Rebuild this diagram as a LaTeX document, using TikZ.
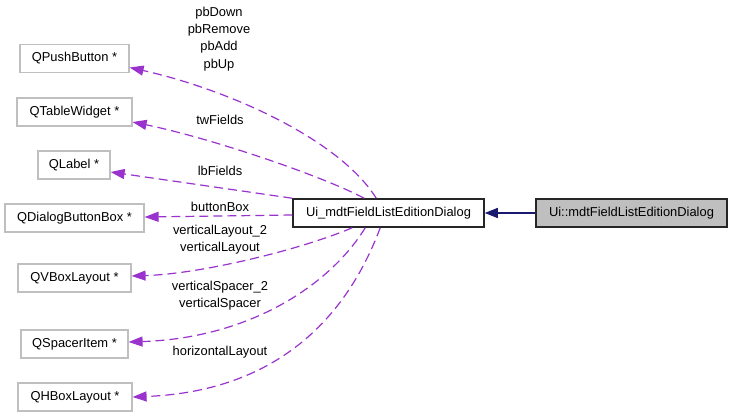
\documentclass[tikz,border=0pt]{standalone}
\usepackage{fontspec}
\setmainfont{Liberation Sans}
\usetikzlibrary{arrows.meta,calc}
\definecolor{edgepurple}{HTML}{9A32CD}
\definecolor{navyblue}{HTML}{191970}
\definecolor{boxgray}{HTML}{BFBFBF}
\begin{document}
\begin{tikzpicture}[x=1pt,y=-1pt,
  font=\fontsize{12.9}{17.3}\selectfont,
  cls/.style={draw=boxgray, line width=1.2pt, minimum height=28pt, inner sep=0pt, fill=white},
  mainbox/.style={draw=black!85, line width=1.5pt, minimum height=28pt, minimum width=191pt, inner sep=0pt},
  dep/.style={edgepurple, dash pattern=on 9pt off 5pt, line width=1.2pt, -{Triangle[length=14pt,width=10pt]}},
  inh/.style={navyblue, line width=1.2pt, -{Triangle[length=13pt,width=10pt]}},
  elabel/.style={inner sep=0pt, align=center, text=black}]
\useasboundingbox (0,0) rectangle (733,417);

% class nodes
\node[cls, minimum width=109pt] (push)   at (74.5,58.5) {QPushButton *};
\node[cls, minimum width=115pt] (table)  at (74.5,112)  {QTableWidget *};
\node[cls, minimum width=72pt]  (label)  at (74,165)    {QLabel *};
\node[cls, minimum width=139pt] (dbb)    at (74.5,218)  {QDialogButtonBox *};
\node[cls, minimum width=113pt] (vbox)   at (74.5,278)  {QVBoxLayout *};
\node[cls, minimum width=107pt] (spacer) at (74.5,344)  {QSpacerItem *};
\node[cls, minimum width=114pt] (hbox)   at (75,397)    {QHBoxLayout *};
\node[mainbox] (ui) at (388.5,213) {Ui\_mdtFieldListEditionDialog};
\node[mainbox, fill=boxgray] (uins) at (631.5,213) {Ui::mdtFieldListEditionDialog};

% inheritance
\draw[inh] (uins.west) -- (ui.east);

% usage edges
\draw[dep] ([xshift=84pt]ui.north west) .. controls (340,140) and (230,90) .. ([yshift=-9pt]push.east);
\draw[dep] ([xshift=72pt]ui.north west) .. controls (320,175) and (210,138) .. ([yshift=-10pt]table.east);
\draw[dep] (ui.north west) -- ([yshift=-7pt]label.east);
\draw[dep] ([yshift=-2pt]ui.west) -- ([yshift=1pt]dbb.east);
\draw[dep] ([xshift=60pt]ui.south west) .. controls (300,250) and (200,274) .. ([yshift=2pt]vbox.east);
\draw[dep] ([xshift=73pt]ui.south west) .. controls (330,285) and (250,338) .. ([yshift=2pt]spacer.east);
\draw[dep] ([xshift=88pt]ui.south west) .. controls (340,335) and (260,392) .. (hbox.east);

% edge labels
\node[elabel] (l1) at (219,39)    {pbDown\\pbRemove\\pbAdd\\pbUp};
\node[elabel] (l2) at (220,120)   {twFields};
\node[elabel] (l3) at (220,171)   {lbFields};
\node[elabel] (l4) at (220,206.5) {buttonBox};
\node[elabel] (l5) at (220,239.5) {verticalLayout\_2\\verticalLayout};
\node[elabel] (l6) at (220,295.5) {verticalSpacer\_2\\verticalSpacer};
\node[elabel] (l7) at (220,352)   {horizontalLayout};
\end{tikzpicture}
\end{document}
